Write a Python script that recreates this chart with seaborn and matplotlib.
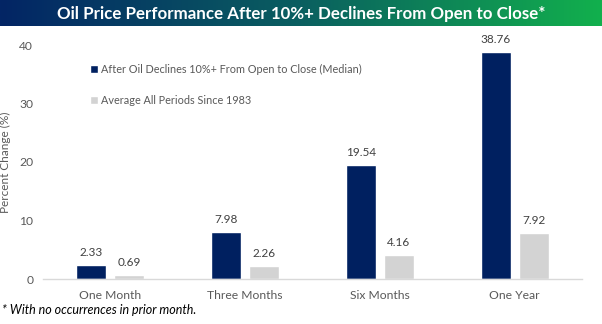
import numpy as np
import pandas as pd
import matplotlib
matplotlib.use("Agg")
import matplotlib.pyplot as plt
from matplotlib.colors import LinearSegmentedColormap
from matplotlib.patches import Patch
import seaborn as sns

# Chart data
periods = ["One Month", "Three Months", "Six Months", "One Year"]
after_decline = [2.33, 7.98, 19.54, 38.76]
all_periods = [0.69, 2.26, 4.16, 7.92]
series_names = ["After Oil Declines 10%+ From Open to Close (Median)",
                "Average All Periods Since 1983"]
y_ticks = [0, 10, 20, 30, 40]

title = "Oil Price Performance After 10%+ Declines From Open to Close*"
footnote = "* With no occurrences in prior month."

df = pd.DataFrame({
    "Period": periods * 2,
    "Series": [series_names[0]] * len(periods) + [series_names[1]] * len(periods),
    "Change": after_decline + all_periods,
})

sns.set_theme(style="white")
plt.rcParams["font.family"] = ["Lato", "DejaVu Sans"]

navy = "#002060"
grey = "#d3d3d3"
text_grey = "#595959"

fig = plt.figure(figsize=(6.02, 3.24), dpi=100)

# Title banner with a navy-to-green gradient
banner = fig.add_axes([0, 1 - 26 / 324, 1, 26 / 324])
cmap = LinearSegmentedColormap.from_list("banner", ["#032565", "#0a5f60", "#12b04d"])
banner.imshow(np.linspace(0, 1, 256)[None, :], aspect="auto", cmap=cmap,
              extent=[0, 1, 0, 1])
banner.set_axis_off()
banner.text(0.5, 0.48, title, color="white", fontsize=12.2, fontweight="bold",
            ha="center", va="center", transform=banner.transAxes)

ax = fig.add_axes([43 / 602, 45 / 324, 539 / 602, 234 / 324])
sns.barplot(data=df, x="Period", y="Change", hue="Series",
            palette=[navy, grey], width=0.564, gap=0.21, ax=ax,
            legend=False, saturation=1)

for cont in ax.containers:
    ax.bar_label(cont, fmt="%.2f", padding=5, fontsize=8.5, color="#404040")

ax.set_xlim(-0.5, 3.5)
ax.set_ylim(0, 40)
ax.set_yticks(y_ticks)
ax.set_xlabel("")
ax.set_ylabel("Percent Change (%)", fontsize=8.5, color=text_grey, labelpad=6)
ax.tick_params(axis="both", length=0, labelsize=8.7, labelcolor=text_grey)
ax.tick_params(axis="x", pad=8)
ax.tick_params(axis="y", pad=7)
for side in ["top", "right", "left"]:
    ax.spines[side].set_visible(False)
ax.spines["bottom"].set_color("#d9d9d9")
ax.spines["bottom"].set_linewidth(1)

handles = [Patch(facecolor=navy), Patch(facecolor=grey)]
ax.legend(handles, series_names, loc="upper left", bbox_to_anchor=(0.088, 0.92),
          frameon=False, borderaxespad=0, borderpad=0, handletextpad=0.3,
          handlelength=0.7, handleheight=0.7, labelspacing=1.85,
          fontsize=7.8, labelcolor=text_grey)

fig.text(0.004, 0.025, footnote, fontsize=9, style="italic", color="black",
         ha="left", va="bottom")

fig.savefig("out.png", dpi=100)
